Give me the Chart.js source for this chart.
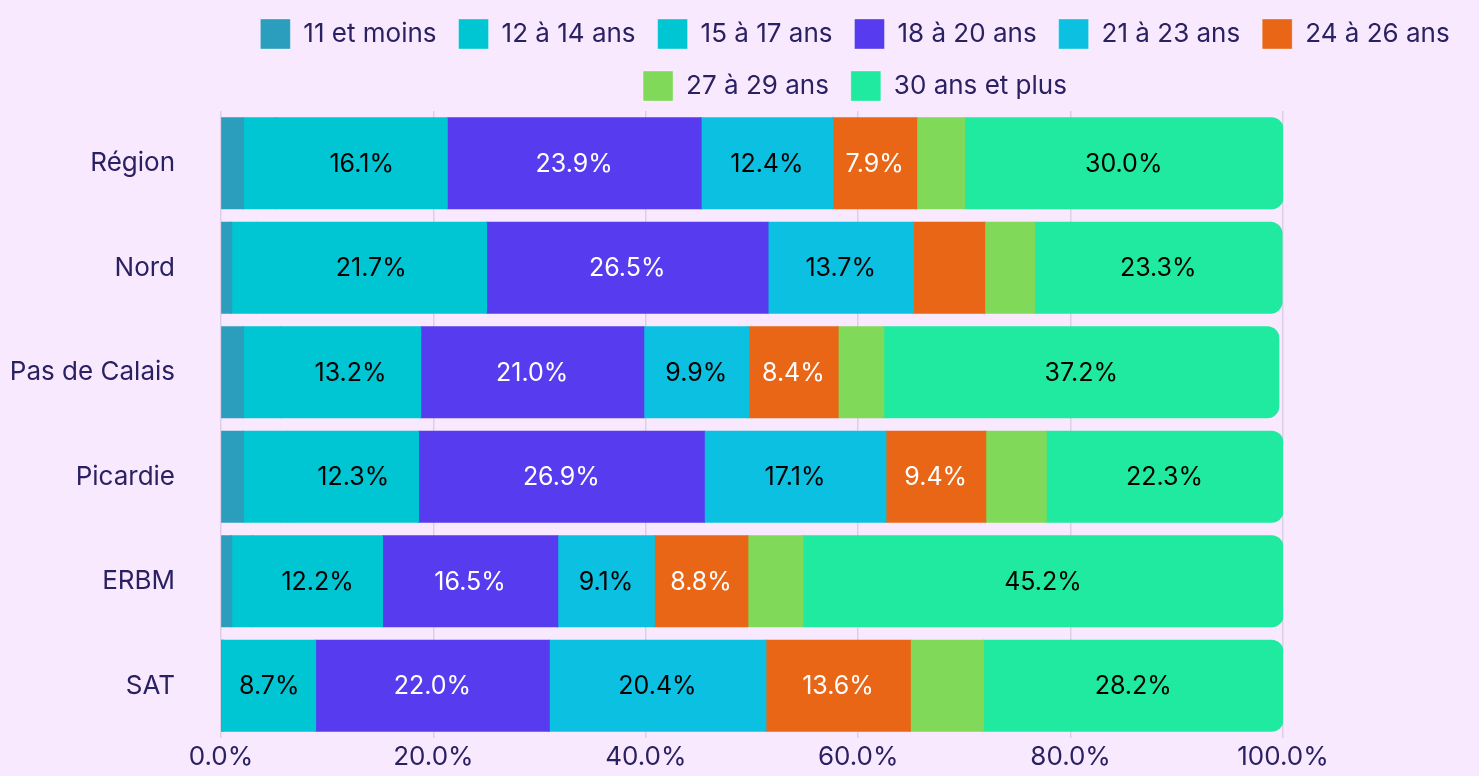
<!DOCTYPE html>
<html>
<head>
<meta charset="utf-8">
<script src="https://cdn.jsdelivr.net/npm/chart.js@4.4.1/dist/chart.umd.min.js"></script>
<style>
html,body{margin:0;padding:0;background:#F9E9FE;overflow:hidden}
#wrap{width:1479px;height:776px;position:relative}
canvas{display:block}
</style>
</head>
<body>
<div id="wrap"><canvas id="c" width="1479" height="776"></canvas></div>
<script>
// ---- data ----
const categories = ['Région', 'Nord', 'Pas de Calais', 'Picardie', 'ERBM', 'SAT'];
const seriesNames = ['11 et moins', '12 à 14 ans', '15 à 17 ans', '18 à 20 ans', '21 à 23 ans', '24 à 26 ans', '27 à 29 ans', '30 ans et plus'];
const age11 = [2.1, 1.0, 2.1, 2.1, 1.0, 0.0];
const age12_14 = [3.1, 2.3, 3.5, 4.2, 2.0, 0.2];
const age15_17 = [16.1, 21.7, 13.2, 12.3, 12.2, 8.7];
const age18_20 = [23.9, 26.5, 21.0, 26.9, 16.5, 22.0];
const age21_23 = [12.4, 13.7, 9.9, 17.1, 9.1, 20.4];
const age24_26 = [7.9, 6.7, 8.4, 9.4, 8.8, 13.6];
const age27_29 = [4.5, 4.7, 4.3, 5.7, 5.2, 6.9];
const age30 = [30.0, 23.3, 37.2, 22.3, 45.2, 28.2];
const xTicks = [0, 20, 40, 60, 80, 100];

// ---- styles ----
const seriesColors = ['#2B9DBD', '#00C5D3', '#00C5D3', '#573BEE', '#0BC0E0', '#E86616', '#81D95A', '#20EA9F'];
const labelColors = ['#000000', '#000000', '#000000', '#FFFFFF', '#000000', '#FFFFFF', '#000000', '#000000'];
const textColor = '#2A2163';
const edgeColor = 'rgba(255,255,255,0.35)';
const FONT = 'Inter';

const allSeries = [age11, age12_14, age15_17, age18_20, age21_23, age24_26, age27_29, age30];

const datasets = allSeries.map((vals, i) => ({
  label: seriesNames[i],
  data: vals,
  backgroundColor: seriesColors[i],
  borderWidth: 0,
  borderSkipped: 'start',
  borderRadius: 12,
  inflateAmount: 0.6,
  categoryPercentage: 1.0,
  barPercentage: 0.87
}));

const valueLabels = {
  id: 'valueLabels',
  afterDatasetsDraw(chart) {
    const ctx = chart.ctx;
    ctx.save();
    ctx.font = '25px ' + FONT;
    ctx.textAlign = 'center';
    ctx.textBaseline = 'middle';
    chart.data.datasets.forEach((ds, i) => {
      const meta = chart.getDatasetMeta(i);
      if (meta.hidden) return;
      meta.data.forEach((bar, j) => {
        const v = ds.data[j];
        if (v < 7) return;
        const p = bar.getCenterPoint();
        ctx.fillStyle = labelColors[i];
        ctx.fillText(v.toFixed(1) + '%', p.x, p.y + 1);
      });
    });
    ctx.restore();
  }
};

const legendShift = {
  id: 'legendShift',
  afterLayout(chart) {
    const lg = chart.legend;
    if (!lg) return;
    const L = chart.chartArea.left, R = 1489;
    lg.maxWidth = 1300;
    lg.fit();
    lg.left = L; lg.right = R; lg.width = R - L;
  }
};

new Chart(document.getElementById('c'), {
  type: 'bar',
  data: { labels: categories, datasets },
  options: {
    responsive: false,
    animation: false,
    indexAxis: 'y',
    layout: { padding: { top: -3, right: 196, bottom: 0, left: 0 } },
    plugins: {
      legend: {
        position: 'top',
        labels: {
          color: textColor,
          font: { family: FONT, size: 26 },
          boxWidth: 30,
          boxHeight: 30,
          padding: 22,
          generateLabels(chart) {
            const items = Chart.defaults.plugins.legend.labels.generateLabels(chart);
            items.forEach(it => { it.lineWidth = 1; it.strokeStyle = edgeColor; });
            return items;
          }
        }
      },
      tooltip: { enabled: false }
    },
    scales: {
      x: {
        stacked: true,
        min: 0,
        max: 100,
        afterBuildTicks(s) { s.ticks = xTicks.map(v => ({ value: v })); },
        afterFit(s) { s.height = 38; },
        ticks: {
          color: textColor,
          font: { family: FONT, size: 26 },
          padding: 4,
          maxRotation: 0,
          callback: v => Number(v).toFixed(1) + '%'
        },
        grid: { color: '#DDCDE7', lineWidth: 1.5, drawTicks: false },
        border: { display: false }
      },
      y: {
        stacked: true,
        afterFit(s) { s.width = 221; },
        ticks: {
          color: textColor,
          font: { family: FONT, size: 26 },
          padding: 4
        },
        grid: { display: false, drawTicks: true, tickLength: 42, tickColor: 'rgba(0,0,0,0)' },
        border: { display: false }
      }
    }
  },
  plugins: [valueLabels, legendShift]
});
</script>
</body>
</html>
